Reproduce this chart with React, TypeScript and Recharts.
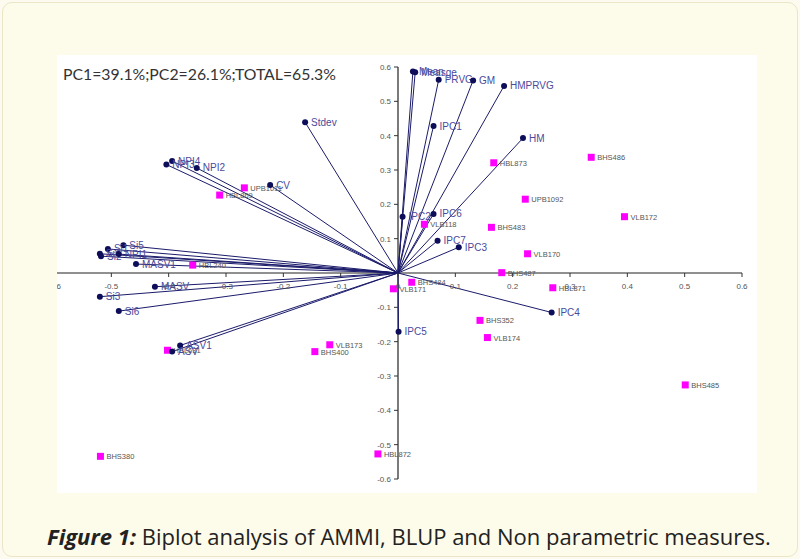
import React from "react";
import { ReferenceLine, Scatter, ScatterChart, XAxis, YAxis } from "recharts";

// trait vectors (PC1, PC2)
const traitNames = [
  "Mean", "Measge", "PRVG", "GM", "HMPRVG", "IPC1", "HM", "Stdev",
  "NPI4", "NPI3", "NPI2", "CV", "Si5", "Si1", "Si4", "Si2", "NPI1",
  "MASV1", "MASV", "Si3", "Si6", "ASV1", "ASV", "IPC6", "IPC2", "IPC7",
  "IPC3", "IPC4", "IPC5",
];
const traitPC1 = [
  0.026, 0.03, 0.071, 0.131, 0.185, 0.062, 0.218, -0.162,
  -0.394, -0.404, -0.351, -0.223, -0.479, -0.506, -0.52, -0.518, -0.487,
  -0.457, -0.424, -0.52, -0.487, -0.38, -0.394, 0.062, 0.008, 0.069,
  0.106, 0.268, 0.001,
];
const traitPC2 = [
  0.587, 0.585, 0.563, 0.561, 0.545, 0.428, 0.393, 0.439,
  0.326, 0.316, 0.306, 0.256, 0.081, 0.07, 0.056, 0.049, 0.055,
  0.026, -0.04, -0.069, -0.111, -0.211, -0.229, 0.172, 0.164, 0.094,
  0.075, -0.115, -0.171,
];

// genotypes (PC1, PC2)
const genoNames = [
  "UPB1011", "HBL869", "HBL240", "HBL631", "VLB173", "BHS400", "BHS380",
  "HBL872", "VLB171", "BHS484", "HBL871", "BHS352", "VLB174", "BHS485",
  "HBL873", "BHS486", "UPB1092", "VLB172", "VLB118", "BHS483", "VLB170",
  "BHS487",
];
const genoPC1 = [
  -0.268, -0.311, -0.358, -0.402, -0.119, -0.145, -0.519,
  -0.035, -0.008, 0.024, 0.27, 0.143, 0.156, 0.501,
  0.167, 0.337, 0.222, 0.395, 0.046, 0.163, 0.226,
  0.181,
];
const genoPC2 = [
  0.248, 0.227, 0.023, -0.225, -0.209, -0.229, -0.534,
  -0.527, -0.046, -0.027, -0.043, -0.138, -0.188, -0.326,
  0.321, 0.337, 0.215, 0.164, 0.142, 0.133, 0.056,
  0.001,
];

const axisTicks = [-0.6, -0.5, -0.4, -0.3, -0.2, -0.1, 0, 0.1, 0.2, 0.3, 0.4, 0.5, 0.6];
const yTicks = axisTicks.filter((t) => t !== 0);

const NAVY = "#1b1b6b";
const DOT = "#0d0d5a";
const LABEL = "#4a4a9c";
const MAGENTA = "#ff00ff";

const W = 710;
const H = 438;
// plot area: left 7, right 15, top 12, bottom 14 (axes take the left/bottom part)
const M = { top: 12, right: 15, bottom: 0, left: 0 };
const X_AXIS_H = 14;
const Y_AXIS_W = 7;
const ORIGIN_X = Y_AXIS_W + (W - Y_AXIS_W - M.right) / 2;
const ORIGIN_Y = M.top + (H - M.top - X_AXIS_H) / 2;

const fmt = (v: number) => (v === 0 ? "0" : String(Number(v.toFixed(1))));

function XTick(props: any) {
  const { x, payload } = props;
  return (
    <g>
      <line x1={x} x2={x} y1={ORIGIN_Y} y2={ORIGIN_Y + 4} stroke="#333" />
      <text x={x} y={ORIGIN_Y + 16} textAnchor="middle" fontSize={8} fill="#555" fontFamily="Arial, 'Liberation Sans'">
        {fmt(payload.value)}
      </text>
    </g>
  );
}

function YTick(props: any) {
  const { y, payload } = props;
  return (
    <g>
      <line x1={ORIGIN_X - 4} x2={ORIGIN_X} y1={y} y2={y} stroke="#333" />
      <text x={ORIGIN_X - 7} y={y + 3} textAnchor="end" fontSize={8} fill="#555" fontFamily="Arial, 'Liberation Sans'">
        {fmt(payload.value)}
      </text>
    </g>
  );
}

function TraitDot(props: any) {
  const { cx, cy, payload } = props;
  return (
    <g>
      <circle cx={cx} cy={cy} r={3} fill={DOT} />
      <text x={cx + 6} y={cy + 3.5} fontSize={10} fill={LABEL} fontFamily="Arial, 'Liberation Sans'">
        {payload.name}
      </text>
    </g>
  );
}

function GenoDot(props: any) {
  const { cx, cy, payload } = props;
  return (
    <g>
      <rect x={cx - 3.5} y={cy - 3.5} width={7} height={7} fill={MAGENTA} />
      <text x={cx + 6} y={cy + 3} fontSize={7.5} fill="#555" fontFamily="Arial, 'Liberation Sans'">
        {payload.name}
      </text>
    </g>
  );
}

export default function App() {
  const traits = traitNames.map((name, i) => ({ name, x: traitPC1[i], y: traitPC2[i] }));
  const genos = genoNames.map((name, i) => ({ name, x: genoPC1[i], y: genoPC2[i] }));

  return (
    <div
      style={{
        position: "absolute",
        left: 0,
        top: 0,
        width: 800,
        height: 559,
        background: "#fdfbf0",
        overflow: "hidden",
      }}
    >
      <div
        style={{
          position: "absolute",
          left: 2,
          top: 2,
          width: 794,
          height: 553,
          border: "1px solid #ebe6c8",
          borderRadius: 10,
          background: "#fdfbea",
        }}
      />
      <div
        style={{
          position: "absolute",
          left: 57,
          top: 55,
          width: 700,
          height: H,
          background: "#fff",
          overflow: "hidden",
        }}
      >
        <div style={{ position: "absolute", left: -10, top: 0 }}>
          <ScatterChart width={W} height={H} margin={M}>
            <XAxis
              type="number"
              dataKey="x"
              domain={[-0.6, 0.6]}
              ticks={axisTicks}
              interval={0}
              axisLine={false}
              tickLine={false}
              height={X_AXIS_H}
              tick={(p: any) => <XTick {...p} />}
            />
            <YAxis
              type="number"
              dataKey="y"
              domain={[-0.6, 0.6]}
              ticks={yTicks}
              interval={0}
              axisLine={false}
              tickLine={false}
              width={Y_AXIS_W}
              tick={(p: any) => <YTick {...p} />}
            />
            <ReferenceLine x={0} stroke="#222" strokeWidth={1.2} />
            <ReferenceLine y={0} stroke="#222" strokeWidth={1.2} />
            {traits.map((d) => (
              <ReferenceLine
                key={d.name}
                segment={[
                  { x: 0, y: 0 },
                  { x: d.x, y: d.y },
                ]}
                stroke={NAVY}
                strokeWidth={1}
                ifOverflow="visible"
              />
            ))}
            <Scatter data={genos} isAnimationActive={false} shape={(p: any) => <GenoDot {...p} />} />
            <Scatter data={traits} isAnimationActive={false} shape={(p: any) => <TraitDot {...p} />} />
          </ScatterChart>
        </div>
        <div
          style={{
            position: "absolute",
            left: 6,
            top: 9,
            fontFamily: "Lato, 'Open Sans', sans-serif",
            fontSize: 15.8,
            color: "#333",
            whiteSpace: "nowrap",
          }}
        >
          PC1=39.1%;PC2=26.1%;TOTAL=65.3%
        </div>
      </div>
      <div
        style={{
          position: "absolute",
          left: 47,
          top: 522,
          fontFamily: "'Open Sans', Lato, sans-serif",
          fontSize: 22,
          lineHeight: "28px",
          color: "#222",
          whiteSpace: "nowrap",
        }}
      >
        <b>
          <i>Figure 1:</i>
        </b>{" "}
        Biplot analysis of AMMI, BLUP and Non parametric measures.
      </div>
    </div>
  );
}
